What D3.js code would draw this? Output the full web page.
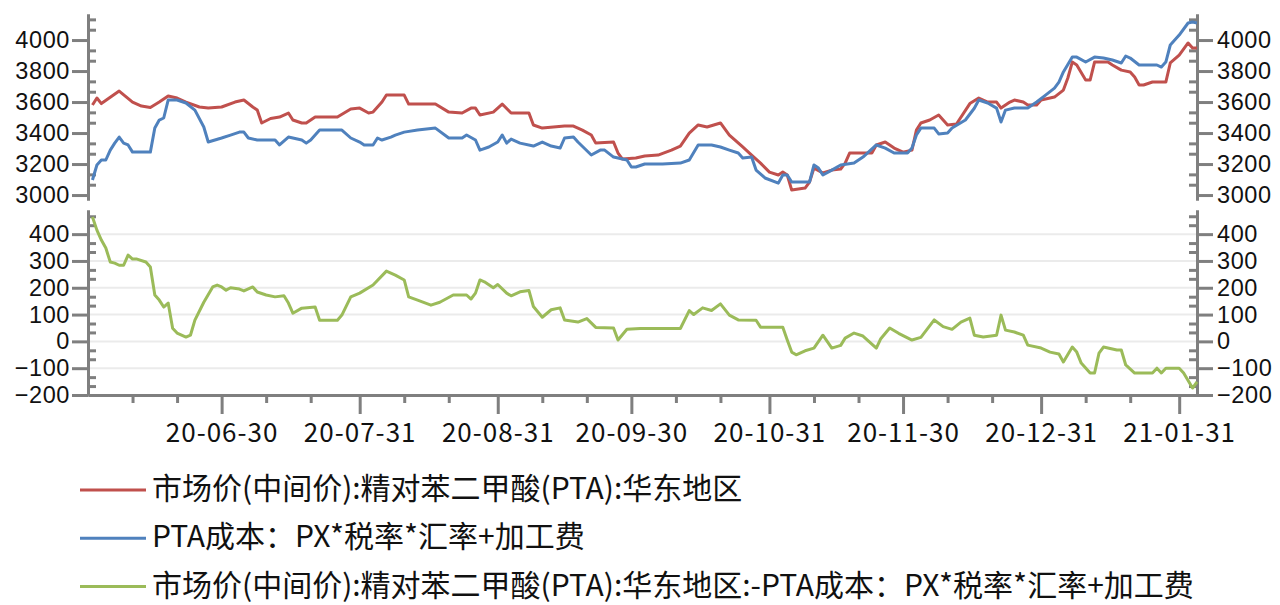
<!DOCTYPE html>
<html>
<head>
<meta charset="utf-8">
<script src="https://cdn.jsdelivr.net/npm/d3@7"></script>
<style>
  body { margin: 0; background: #fff; }
  text { fill: #111; }
</style>
</head>
<body>
<svg id="chart" width="1280" height="605"></svg>
<script>
// 市场价(中间价):精对苯二甲酸(PTA):华东地区
const marketPrice = [
  ["2020-06-01",3581],["2020-06-02",3626],["2020-06-03",3590],["2020-06-07",3671],["2020-06-10",3600],
  ["2020-06-12",3574],["2020-06-14",3565],["2020-06-16",3600],["2020-06-18",3639],["2020-06-20",3626],
  ["2020-06-22",3600],["2020-06-25",3568],["2020-06-27",3561],["2020-06-30",3568],["2020-07-03",3600],
  ["2020-07-05",3613],["2020-07-07",3568],["2020-07-08",3548],["2020-07-09",3465],["2020-07-11",3494],
  ["2020-07-13",3503],["2020-07-15",3529],["2020-07-16",3484],["2020-07-18",3465],["2020-07-19",3465],
  ["2020-07-21",3503],["2020-07-26",3503],["2020-07-29",3555],["2020-07-31",3561],["2020-08-02",3529],
  ["2020-08-03",3535],["2020-08-05",3600],["2020-08-06",3645],["2020-08-10",3645],["2020-08-11",3587],
  ["2020-08-17",3587],["2020-08-20",3535],["2020-08-23",3529],["2020-08-25",3561],["2020-08-26",3561],
  ["2020-08-27",3516],["2020-08-30",3535],["2020-09-01",3587],["2020-09-03",3529],["2020-09-07",3529],
  ["2020-09-08",3452],["2020-09-10",3432],["2020-09-15",3445],["2020-09-17",3445],["2020-09-19",3419],
  ["2020-09-21",3387],["2020-09-22",3335],["2020-09-26",3342],["2020-09-27",3271],["2020-09-28",3232],
  ["2020-10-01",3239],["2020-10-03",3252],["2020-10-06",3258],["2020-10-09",3290],["2020-10-11",3316],
  ["2020-10-13",3400],["2020-10-15",3452],["2020-10-17",3439],["2020-10-20",3465],["2020-10-22",3387],
  ["2020-10-25",3310],["2020-10-27",3258],["2020-10-29",3206],["2020-10-31",3148],["2020-11-02",3129],
  ["2020-11-03",3148],["2020-11-04",3129],["2020-11-05",3032],["2020-11-08",3045],["2020-11-09",3084],
  ["2020-11-10",3174],["2020-11-12",3142],["2020-11-14",3161],["2020-11-16",3168],["2020-11-17",3206],
  ["2020-11-18",3271],["2020-11-23",3271],["2020-11-24",3323],["2020-11-26",3342],["2020-11-28",3303],
  ["2020-11-30",3277],["2020-12-02",3290],["2020-12-03",3419],["2020-12-04",3465],["2020-12-06",3484],
  ["2020-12-08",3516],["2020-12-10",3452],["2020-12-12",3458],["2020-12-15",3590],["2020-12-17",3626],
  ["2020-12-19",3600],["2020-12-21",3600],["2020-12-22",3561],["2020-12-24",3600],["2020-12-25",3613],
  ["2020-12-27",3600],["2020-12-28",3581],["2020-12-30",3581],["2020-12-31",3613],["2021-01-03",3632],
  ["2021-01-05",3677],["2021-01-06",3755],["2021-01-07",3858],["2021-01-08",3839],["2021-01-10",3742],
  ["2021-01-11",3742],["2021-01-12",3858],["2021-01-15",3858],["2021-01-16",3839],["2021-01-18",3806],
  ["2021-01-20",3794],["2021-01-21",3761],["2021-01-22",3710],["2021-01-23",3710],["2021-01-25",3729],
  ["2021-01-28",3729],["2021-01-29",3852],["2021-01-31",3903],["2021-02-02",3981],["2021-02-03",3948],
  ["2021-02-04",3948]
];

// PTA成本：PX*税率*汇率+加工费
const ptaCost = [
  ["2020-06-01",3097],["2020-06-02",3194],["2020-06-03",3226],["2020-06-04",3226],["2020-06-05",3290],
  ["2020-06-06",3335],["2020-06-07",3374],["2020-06-08",3335],["2020-06-09",3323],["2020-06-10",3277],
  ["2020-06-14",3277],["2020-06-15",3432],["2020-06-16",3484],["2020-06-17",3497],["2020-06-18",3613],
  ["2020-06-20",3613],["2020-06-22",3594],["2020-06-24",3548],["2020-06-26",3439],["2020-06-27",3342],
  ["2020-06-30",3368],["2020-07-02",3387],["2020-07-04",3406],["2020-07-05",3406],["2020-07-06",3368],
  ["2020-07-08",3355],["2020-07-12",3355],["2020-07-13",3323],["2020-07-15",3374],["2020-07-18",3355],
  ["2020-07-19",3335],["2020-07-20",3355],["2020-07-22",3419],["2020-07-27",3419],["2020-07-29",3368],
  ["2020-07-31",3342],["2020-08-01",3323],["2020-08-03",3323],["2020-08-04",3368],["2020-08-05",3355],
  ["2020-08-07",3374],["2020-08-08",3387],["2020-08-10",3406],["2020-08-13",3419],["2020-08-17",3432],
  ["2020-08-20",3368],["2020-08-23",3368],["2020-08-24",3387],["2020-08-26",3355],["2020-08-27",3290],
  ["2020-08-29",3310],["2020-08-31",3342],["2020-09-01",3387],["2020-09-02",3335],["2020-09-03",3361],
  ["2020-09-05",3335],["2020-09-08",3316],["2020-09-10",3342],["2020-09-12",3316],["2020-09-14",3303],
  ["2020-09-15",3368],["2020-09-17",3374],["2020-09-18",3342],["2020-09-21",3258],["2020-09-23",3290],
  ["2020-09-24",3290],["2020-09-26",3245],["2020-09-29",3226],["2020-09-30",3181],["2020-10-01",3181],
  ["2020-10-03",3200],["2020-10-07",3200],["2020-10-11",3206],["2020-10-13",3226],["2020-10-15",3323],
  ["2020-10-18",3323],["2020-10-20",3310],["2020-10-22",3290],["2020-10-24",3271],["2020-10-25",3239],
  ["2020-10-27",3245],["2020-10-28",3161],["2020-10-30",3110],["2020-11-02",3077],["2020-11-03",3129],
  ["2020-11-04",3129],["2020-11-05",3084],["2020-11-09",3084],["2020-11-10",3194],["2020-11-11",3174],
  ["2020-11-12",3129],["2020-11-14",3161],["2020-11-16",3194],["2020-11-19",3206],["2020-11-21",3245],
  ["2020-11-24",3323],["2020-11-26",3303],["2020-11-28",3271],["2020-12-01",3271],["2020-12-02",3303],
  ["2020-12-03",3387],["2020-12-04",3432],["2020-12-07",3432],["2020-12-08",3394],["2020-12-10",3400],
  ["2020-12-11",3432],["2020-12-14",3484],["2020-12-16",3560],["2020-12-17",3613],["2020-12-19",3594],
  ["2020-12-21",3561],["2020-12-22",3471],["2020-12-23",3548],["2020-12-25",3561],["2020-12-28",3561],
  ["2020-12-29",3581],["2020-12-30",3600],["2021-01-01",3645],["2021-01-03",3690],["2021-01-04",3729],
  ["2021-01-05",3794],["2021-01-07",3890],["2021-01-08",3890],["2021-01-10",3858],["2021-01-12",3890],
  ["2021-01-14",3884],["2021-01-16",3871],["2021-01-18",3852],["2021-01-19",3897],["2021-01-20",3884],
  ["2021-01-22",3839],["2021-01-26",3839],["2021-01-27",3826],["2021-01-28",3858],["2021-01-29",3968],
  ["2021-01-31",4032],["2021-02-02",4110],["2021-02-03",4116],["2021-02-04",4110]
];

// 市场价 - PTA成本
const spread = [
  ["2020-06-01",464],["2020-06-02",415],["2020-06-03",378],["2020-06-04",348],["2020-06-05",296],
  ["2020-06-06",292],["2020-06-07",284],["2020-06-08",284],["2020-06-09",322],["2020-06-10",307],
  ["2020-06-11",307],["2020-06-13",296],["2020-06-14",277],["2020-06-15",173],["2020-06-16",154],
  ["2020-06-17",128],["2020-06-18",143],["2020-06-19",49],["2020-06-20",31],["2020-06-22",16],
  ["2020-06-23",23],["2020-06-24",79],["2020-06-26",146],["2020-06-28",203],["2020-06-29",210],
  ["2020-06-30",203],["2020-07-01",191],["2020-07-02",200],["2020-07-04",195],["2020-07-05",188],
  ["2020-07-07",203],["2020-07-08",184],["2020-07-10",173],["2020-07-12",166],["2020-07-14",170],
  ["2020-07-15",143],["2020-07-16",105],["2020-07-18",124],["2020-07-21",128],["2020-07-22",79],
  ["2020-07-26",79],["2020-07-27",98],["2020-07-29",166],["2020-07-31",180],["2020-08-03",210],
  ["2020-08-06",262],["2020-08-08",247],["2020-08-10",229],["2020-08-11",166],["2020-08-13",154],
  ["2020-08-16",135],["2020-08-18",146],["2020-08-21",173],["2020-08-24",173],["2020-08-25",158],
  ["2020-08-26",180],["2020-08-27",229],["2020-08-28",222],["2020-08-30",200],["2020-08-31",212],
  ["2020-09-02",180],["2020-09-03",170],["2020-09-05",185],["2020-09-07",190],["2020-09-08",130],
  ["2020-09-10",90],["2020-09-12",118],["2020-09-14",125],["2020-09-15",80],["2020-09-18",72],
  ["2020-09-20",85],["2020-09-22",52],["2020-09-26",50],["2020-09-27",5],["2020-09-29",45],
  ["2020-10-02",48],["2020-10-11",48],["2020-10-13",115],["2020-10-14",100],["2020-10-16",125],
  ["2020-10-18",115],["2020-10-20",140],["2020-10-22",98],["2020-10-24",80],["2020-10-28",79],
  ["2020-10-29",53],["2020-11-03",53],["2020-11-04",5],["2020-11-05",-40],["2020-11-06",-50],
  ["2020-11-08",-35],["2020-11-10",-25],["2020-11-12",23],["2020-11-14",-25],["2020-11-16",-15],
  ["2020-11-17",12],["2020-11-19",31],["2020-11-21",20],["2020-11-24",-25],["2020-11-25",10],
  ["2020-11-27",50],["2020-11-29",30],["2020-12-02",5],["2020-12-04",15],["2020-12-07",80],
  ["2020-12-09",55],["2020-12-11",45],["2020-12-13",72],["2020-12-15",87],["2020-12-16",23],
  ["2020-12-18",16],["2020-12-21",23],["2020-12-22",98],["2020-12-23",42],["2020-12-25",35],
  ["2020-12-27",23],["2020-12-28",-14],["2020-12-31",-25],["2021-01-02",-40],["2021-01-04",-47],
  ["2021-01-05",-77],["2021-01-07",-21],["2021-01-08",-40],["2021-01-09",-81],["2021-01-11",-118],
  ["2021-01-12",-118],["2021-01-13",-44],["2021-01-14",-21],["2021-01-17",-32],["2021-01-18",-32],
  ["2021-01-19",-88],["2021-01-21",-118],["2021-01-25",-118],["2021-01-26",-100],["2021-01-27",-118],
  ["2021-01-28",-100],["2021-01-31",-100],["2021-02-01",-118],["2021-02-03",-174],["2021-02-04",-151]
];

const priceTicks = [3000, 3200, 3400, 3600, 3800, 4000];
const spreadTicks = [-200, -100, 0, 100, 200, 300, 400];
const spreadGrid = [-100, 0, 100, 200, 300, 400];
const monthEndTicks = ["2020-06-30","2020-07-31","2020-08-31","2020-09-30","2020-10-31","2020-11-30","2020-12-31","2021-01-31"];
const legendLabels = [
  "市场价(中间价):精对苯二甲酸(PTA):华东地区",
  "PTA成本：PX*税率*汇率+加工费",
  "市场价(中间价):精对苯二甲酸(PTA):华东地区:-PTA成本：PX*税率*汇率+加工费"
];
const colors = ["#c0504d", "#4f81bd", "#9bbb59"];

const parse = d3.timeParse("%Y-%m-%d");
const axisColor = "#7f7f7f";
const cjkFont = '"Noto Sans CJK SC", "Noto Sans", sans-serif';
const left = 88, right = 1197;

const svg = d3.select("#chart");

const x = d3.scaleTime()
  .domain([parse("2020-05-31"), parse("2021-02-04")])
  .range([left, right]);

const yPrice = d3.scaleLinear().domain([2968, 4168]).range([200, 14]);
const ySpread = d3.scaleLinear().domain([-200, 490]).range([395, 210]);

// minor ticks: thirds of each interval
function thirds(ticks, step, lo, hi) {
  const out = [];
  ticks.concat([ticks[ticks.length - 1] + step]).forEach(t => {
    [t - step * 2 / 3, t - step / 3].forEach(v => { if (v > lo && v < hi) out.push(v); });
  });
  return out;
}
const priceMinor = thirds(priceTicks, 200, yPrice.domain()[0], yPrice.domain()[1]);
const spreadMinor = thirds(spreadTicks, 100, ySpread.domain()[0], ySpread.domain()[1]);

// gridlines of the spread panel
svg.append("g").selectAll("line")
  .data(spreadGrid)
  .enter().append("line")
  .attr("x1", left).attr("x2", right)
  .attr("y1", d => ySpread(d)).attr("y2", d => ySpread(d))
  .attr("stroke", "#ebebeb").attr("stroke-width", 2);

function styleAxis(g) {
  g.select(".domain").attr("stroke", axisColor).attr("stroke-width", 3);
  g.selectAll(".tick line").attr("stroke", axisColor).attr("stroke-width", 3);
  g.selectAll(".tick text")
    .style("font-family", '"Liberation Sans", Arial, sans-serif')
    .style("font-size", "23.5px")
    .style("letter-spacing", "0.6px")
    .style("fill", "#111");
}

[[yPrice, priceTicks, priceMinor], [ySpread, spreadTicks, spreadMinor]].forEach(([y, major, minor]) => {
  // left side
  svg.append("g").attr("transform", `translate(${left},0)`)
    .call(d3.axisLeft(y).tickValues(major).tickSize(16).tickSizeOuter(0).tickPadding(2).tickFormat(d3.format("d")))
    .call(styleAxis);
  svg.append("g").attr("transform", `translate(${left},0)`)
    .call(d3.axisRight(y).tickValues(minor).tickSize(8).tickSizeOuter(0).tickFormat(""))
    .call(styleAxis);
  // right side
  svg.append("g").attr("transform", `translate(${right},0)`)
    .call(d3.axisRight(y).tickValues(major).tickSize(16).tickSizeOuter(0).tickPadding(4).tickFormat(d3.format("d")))
    .call(styleAxis);
  svg.append("g").attr("transform", `translate(${right},0)`)
    .call(d3.axisLeft(y).tickValues(minor).tickSize(8).tickSizeOuter(0).tickFormat(""))
    .call(styleAxis);
});

// x axis: month ends (long ticks with labels), 10th / 20th (short ticks)
const dayTicks = d3.timeMonth.range(parse("2020-06-01"), parse("2021-02-01"))
  .flatMap(m => [10, 20].map(d => new Date(m.getFullYear(), m.getMonth(), d)));

svg.append("g").attr("transform", `translate(0,${ySpread.range()[0]})`)
  .call(d3.axisBottom(x).tickValues(dayTicks).tickSize(8).tickSizeOuter(0).tickFormat(""))
  .call(styleAxis);
svg.append("g").attr("transform", `translate(0,${ySpread.range()[0]})`)
  .call(d3.axisBottom(x).tickValues(monthEndTicks.map(parse)).tickSize(19).tickSizeOuter(0)
    .tickPadding(10).tickFormat(d3.timeFormat("%y-%m-%d")))
  .call(styleAxis)
  .call(g => g.selectAll(".tick text")
    .style("font-family", cjkFont)
    .style("font-size", "26px")
    .style("letter-spacing", "1px"));

// series
const series = [
  { data: marketPrice, y: yPrice, color: colors[0] },
  { data: ptaCost, y: yPrice, color: colors[1] },
  { data: spread, y: ySpread, color: colors[2] }
];
series.forEach(s => {
  const line = d3.line().x(d => x(parse(d[0]))).y(d => s.y(d[1]));
  svg.append("path")
    .datum(s.data)
    .attr("fill", "none")
    .attr("stroke", s.color)
    .attr("stroke-width", 3)
    .attr("stroke-linejoin", "round")
    .attr("d", line);
});

// legend
const legend = svg.append("g").selectAll("g")
  .data(legendLabels)
  .enter().append("g")
  .attr("transform", (d, i) => `translate(80,${490 + i * 48.3})`);
legend.append("line")
  .attr("x1", 0).attr("x2", 66)
  .attr("stroke", (d, i) => colors[i]).attr("stroke-width", 3);
legend.append("text")
  .attr("x", 72).attr("dy", "0.3em")
  .style("font-family", cjkFont)
  .style("font-size", "30px")
  .text(d => d);
</script>
</body>
</html>
